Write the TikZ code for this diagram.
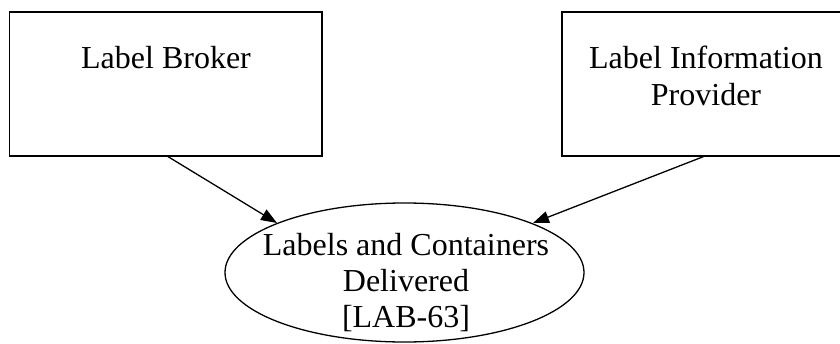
\documentclass[tikz,border=0pt]{standalone}
\usepackage{fontspec}
\setmainfont{Liberation Serif}
\usetikzlibrary{shapes.geometric,arrows.meta,calc}
\begin{document}
\begin{tikzpicture}[x=1pt,y=-1pt,
  boxnode/.style={draw,line width=1.6pt,rectangle,inner sep=0pt},
  txt/.style={font=\fontsize{32}{36}\selectfont,anchor=base,inner sep=0pt},
  goalnode/.style={draw,line width=1.3pt,ellipse,inner sep=0pt,minimum width=359pt,minimum height=139pt},
  arr/.style={line width=1.3pt,-{Triangle[length=16pt,width=12pt]}}]
\useasboundingbox (0,0) rectangle (840,343);
\node[boxnode,minimum width=312.5pt,minimum height=144pt] (lb) at (165.75,84) {};
\node[txt] (lbt) at (166,68) {Label Broker};
\node[boxnode,minimum width=288pt,minimum height=144pt] (lip) at (706,84) {};
\node[txt] (lipt1) at (706,68) {Label Information};
\node[txt] (lipt2) at (706,105) {Provider};
\node[goalnode] (goal) at (404.5,272.5) {};
\node[txt] (g1) at (406,255) {Labels and Containers};
\node[txt] (g2) at (406,291) {Delivered};
\node[txt] (g3) at (406,327) {[LAB-63]};
\coordinate (sl) at (167,156);
\coordinate (sr) at (705,156);
\coordinate (tl) at ($(goal.center)+(-127.5,-49.5)$);
\coordinate (tr) at ($(goal.center)+(128.5,-49.5)$);
\draw[arr] (sl) -- (tl);
\draw[arr] (sr) -- (tr);
\end{tikzpicture}
\end{document}
